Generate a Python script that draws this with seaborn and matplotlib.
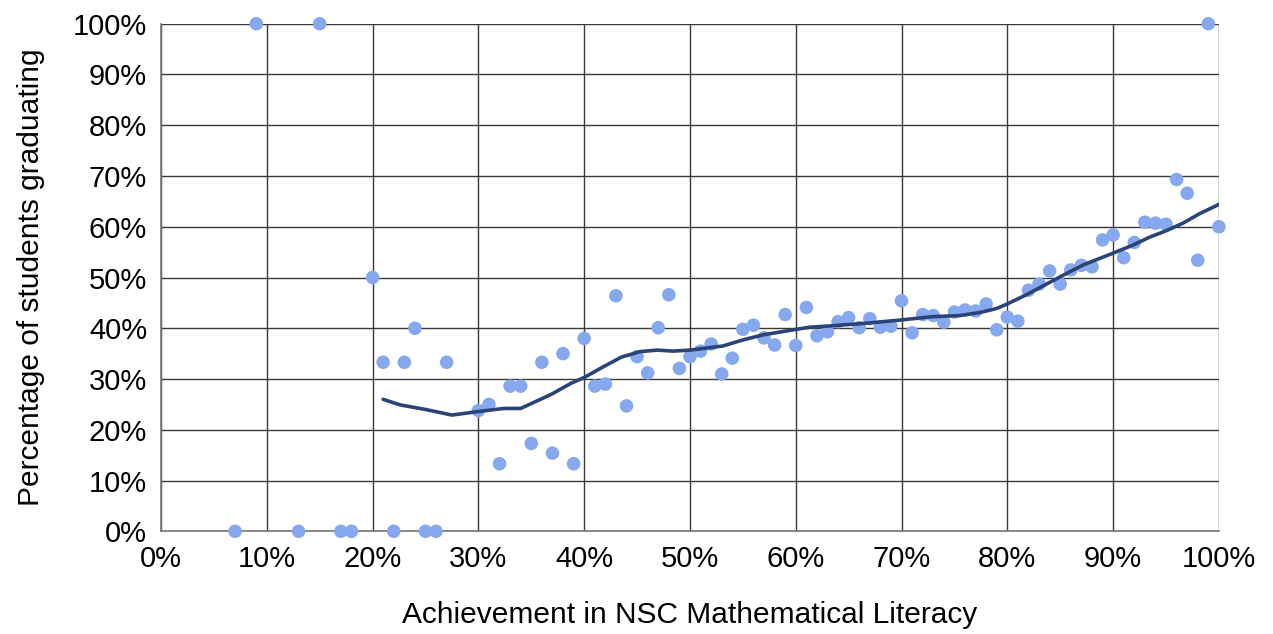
import matplotlib
matplotlib.use("Agg")
import matplotlib.pyplot as plt
from matplotlib.ticker import PercentFormatter, MultipleLocator
import seaborn as sns
import pandas as pd

# Achievement (%) in NSC Mathematical Literacy and share of students graduating (%)
achievement = [7, 9, 13, 15, 17, 18, 20, 21, 22, 23, 24, 25, 26, 27,
               30, 31, 32, 33, 34, 35, 36, 37, 38, 39, 40, 41, 42, 43, 44,
               45, 46, 47, 48, 49, 50, 51, 52, 53, 54, 55, 56, 57, 58, 59,
               60, 61, 62, 63, 64, 65, 66, 67, 68, 69, 70, 71, 72, 73, 74,
               75, 76, 77, 78, 79, 80, 81, 82, 83, 84, 85, 86, 87, 88, 89,
               90, 91, 92, 93, 94, 95, 96, 97, 98, 99, 100]
graduating = [0, 100, 0, 100, 0, 0, 50, 33.3, 0, 33.3, 40, 0, 0, 33.3,
              23.8, 25, 13.3, 28.6, 28.6, 17.3, 33.3, 15.4, 35, 13.3, 38, 28.6, 29, 46.4, 24.7,
              34.4, 31.2, 40.1, 46.6, 32.1, 34.4, 35.5, 36.9, 31.0, 34.1, 39.8, 40.6, 38.1, 36.7, 42.7,
              36.6, 44.1, 38.5, 39.3, 41.3, 42.1, 40.1, 41.9, 40.2, 40.4, 45.4, 39.1, 42.7, 42.5, 41.2,
              43.2, 43.6, 43.4, 44.8, 39.7, 42.2, 41.4, 47.5, 48.7, 51.3, 48.7, 51.5, 52.4, 52.1, 57.4,
              58.4, 53.9, 56.9, 60.9, 60.7, 60.5, 69.3, 66.6, 53.4, 100, 60.0]

# Smoothed trend of the graduation rate
trend_x = [21, 22.6, 25, 27.5, 30, 32.4, 34, 36.9, 38.8, 40, 41.8, 43.5, 45.3, 46.9,
           48.4, 50, 53.1, 55, 56.9, 59.8, 61.3, 63.5, 66.7, 69.8, 73, 75.5, 77.4,
           79, 79.9, 81.8, 83.7, 85.6, 87.2, 90, 91.9, 93.4, 95, 96.6, 98.2, 100]
trend_y = [26.0, 24.9, 24.0, 22.9, 23.6, 24.2, 24.2, 27.0, 29.2, 30.3, 32.4, 34.3, 35.4, 35.7,
           35.5, 35.7, 36.5, 37.7, 38.7, 39.7, 40.2, 40.5, 41.0, 41.6, 42.3, 42.5, 43.1,
           43.9, 44.7, 46.6, 48.7, 50.8, 52.5, 54.8, 56.4, 57.9, 59.2, 60.7, 62.6, 64.4]

points = pd.DataFrame({"achievement": achievement, "graduating": graduating})
trend = pd.DataFrame({"achievement": trend_x, "graduating": trend_y})

sns.set_style("white")
plt.rcParams["font.family"] = ["Liberation Sans", "DejaVu Sans"]
plt.rcParams["text.color"] = "black"
plt.rcParams["axes.labelcolor"] = "black"

fig = plt.figure(figsize=(12.73, 6.34), dpi=100)
ax = fig.add_axes([0.1265, 0.162, 0.831, 0.8006])

sns.scatterplot(data=points, x="achievement", y="graduating", ax=ax,
                color="#86A8EE", s=95, edgecolor="none", linewidth=0, zorder=3, clip_on=False)
sns.lineplot(data=trend, x="achievement", y="graduating", ax=ax,
             color="#2B4478", linewidth=2.6, zorder=4)

ax.set_xlim(0, 100)
ax.set_ylim(0, 100)
ax.xaxis.set_major_locator(MultipleLocator(10))
ax.yaxis.set_major_locator(MultipleLocator(10))
ax.xaxis.set_major_formatter(PercentFormatter(decimals=0))
ax.yaxis.set_major_formatter(PercentFormatter(decimals=0))

ax.grid(True, color="#3a3a3a", linewidth=1.0)
ax.set_axisbelow(True)
for side in ["top", "right"]:
    ax.spines[side].set_visible(False)
for side in ["left", "bottom"]:
    ax.spines[side].set_color("#777777")
    ax.spines[side].set_linewidth(1.2)

ax.tick_params(axis="both", which="major", direction="out", length=7, width=1,
               color="#777777", labelsize=21, labelcolor="black", pad=3)

ax.set_xlabel("Achievement in NSC Mathematical Literacy", fontsize=21.5, labelpad=20)
ax.set_ylabel("Percentage of students graduating", fontsize=21.5, labelpad=20)

fig.savefig("out.png", dpi=100)
